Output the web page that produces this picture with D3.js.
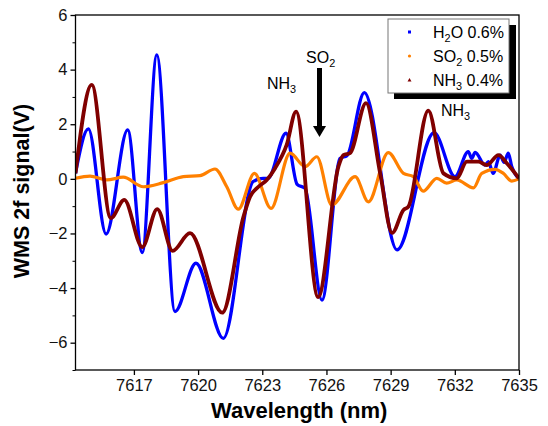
<!DOCTYPE html>
<html><head><meta charset="utf-8">
<script src="https://cdn.jsdelivr.net/npm/d3@7"></script>
<style>body{margin:0;background:#fff}svg{display:block}text{font-family:"Liberation Sans",Arial,sans-serif}</style>
</head><body>
<svg id="c" width="548" height="426"></svg>
<script>
const xTicks = [7617, 7620, 7623, 7626, 7629, 7632, 7635];
const yTicks = [-6, -4, -2, 0, 2, 4, 6];
const yMinor = [-7, -5, -3, -1, 1, 3, 5];

const h2oW = [7614.27,7614.87,7615.70,7616.71,7617.39,7618.07,7618.92,7619.90,7621.18,7622.57,7623.04,7623.27,7624.11,7624.63,7625.00,7625.79,7626.64,7626.96,7627.77,7629.30,7631.03,7632.01,7632.63,7632.79,7632.95,7633.41,7633.57,7633.79,7634.12,7634.30,7634.50,7634.66,7635.0];
const h2oV = [0.2,1.83,-2.02,1.79,-2.70,4.54,-4.86,-3.09,-5.84,-0.1,0.02,0.02,1.67,-0.2,-0.35,-4.44,0.75,0.85,3.16,-2.6,1.69,0.08,1.0,0.75,0.97,0.5,0.63,0.2,0.87,0.6,0.94,0.45,0.0];

const nh3W = [7614.27,7615.03,7615.92,7616.55,7617.39,7618.09,7618.81,7619.62,7621.13,7622.12,7622.43,7622.82,7623.21,7623.60,7624.14,7624.58,7625.61,7626.56,7626.79,7627.10,7627.85,7628.51,7629.07,7629.60,7629.83,7630.76,7631.47,7632.09,7632.56,7633.10,7633.49,7634.04,7634.43,7635.0];
const nh3V = [0.2,3.44,-1.44,-0.77,-2.5,-1.11,-2.64,-1.99,-4.9,-1.39,-0.65,-0.29,-0.04,0.39,1.24,2.46,-4.33,0.45,0.87,0.94,2.77,0.2,-1.98,-1.14,-1.02,2.5,0.2,0.02,0.63,0.63,0.5,0.87,0.57,0.02];

const so2W = [7614.27,7614.95,7615.73,7616.5,7617.44,7618.37,7619.31,7620.09,7620.79,7621.34,7621.88,7622.63,7623.41,7624.30,7625.00,7625.55,7626.25,7627.34,7627.96,7628.89,7629.60,7630.06,7630.52,7631.16,7631.62,7632.09,7632.87,7633.26,7633.88,7634.27,7634.66,7635.0];
const so2V = [0.02,0.1,-0.04,0.06,-0.29,-0.14,0.08,0.12,0.36,-0.29,-1.11,0.2,-1.08,0.94,0.45,0.81,-0.96,0.08,-0.84,0.96,0.2,0.08,-0.45,0.02,-0.16,-0.04,-0.33,0.2,0.35,0.2,-0.08,0.0];

const seriesNames = ["H2O 0.6%", "SO2 0.5%", "NH3 0.4%"];

const svg = d3.select("#c");
const L = 75.5, R = 519, T = 15, B = 370;
const x = d3.scaleLinear().domain([7614.27, 7635]).range([L, R]);
const y = d3.scaleLinear().domain([-7, 6]).range([B, T]);

const series = [
  {name:"H2O", w:h2oW, v:h2oV, color:"#0000ff", width:3.3},
  {name:"SO2", w:so2W, v:so2V, color:"#ff8000", width:3.2},
  {name:"NH3", w:nh3W, v:nh3V, color:"#800000", width:3.8}
];

svg.append("clipPath").attr("id","pc").append("rect")
  .attr("x",L).attr("y",T).attr("width",R-L).attr("height",B-T);

const line = d3.line().x(d=>x(d[0])).y(d=>y(d[1])).curve(d3.curveMonotoneX);
const g = svg.append("g").attr("clip-path","url(#pc)");
series.forEach(s=>{
  g.append("path").datum(s.w.map((w,i)=>[w,s.v[i]]))
   .attr("d",line).attr("fill","none").attr("stroke",s.color)
   .attr("stroke-width",s.width).attr("stroke-linejoin","round");
});

// frame
svg.append("rect").attr("x",L).attr("y",T).attr("width",R-L).attr("height",B-T)
  .attr("fill","none").attr("stroke","#000").attr("stroke-width",1.3);

// axes
const xa = svg.append("g").attr("transform",`translate(0,${B})`)
  .call(d3.axisBottom(x).tickValues(xTicks).tickSize(5).tickPadding(4).tickFormat(d3.format("d")));
const ya = svg.append("g").attr("transform",`translate(${L},0)`)
  .call(d3.axisLeft(y).tickValues(yTicks).tickSize(5).tickPadding(3).tickFormat(d3.format("d")));
svg.append("g").attr("transform",`translate(${L},0)`)
  .call(d3.axisLeft(y).tickValues(yMinor).tickSize(3).tickFormat(""))
  .select(".domain").remove();
[xa,ya].forEach(a=>{
  a.select(".domain").remove();
  a.selectAll("text").attr("font-size",16.5).attr("font-family","Liberation Sans, Arial").attr("fill","#111");
  a.selectAll("line").attr("stroke","#000").attr("stroke-width",1.3);
});
svg.selectAll("g line").attr("stroke","#000");

// axis titles
svg.append("text").attr("x",(L+R)/2+2).attr("y",418).attr("text-anchor","middle")
  .attr("font-size",22).attr("font-weight","bold").text("Wavelength (nm)");
svg.append("text").attr("transform","translate(29,191) rotate(-90)").attr("text-anchor","middle")
  .attr("font-size",21.5).attr("font-weight","bold").text("WMS 2f signal(V)");

function chem(sel, base, sub, rest, size){
  const t = sel.attr("font-size",size);
  t.append("tspan").text(base);
  t.append("tspan").attr("font-size",size*0.68).attr("dy",size*0.28).text(sub);
  if(rest) t.append("tspan").attr("dy",-size*0.28).text(rest);
  return t;
}

// annotations
chem(svg.append("text").attr("x",267).attr("y",89),"NH","3","",16);
chem(svg.append("text").attr("x",306).attr("y",63),"SO","2","",16);
chem(svg.append("text").attr("x",441).attr("y",116),"NH","3","",16);
svg.append("line").attr("x1",319.5).attr("y1",68).attr("x2",319.5).attr("y2",128)
  .attr("stroke","#000").attr("stroke-width",5);
svg.append("path").attr("d","M313,126 L326,126 L319.5,137 Z").attr("fill","#000");

// legend
const lg = svg.append("g");
lg.append("rect").attr("x",394).attr("y",25).attr("width",122).attr("height",74).attr("fill","#000");
lg.append("rect").attr("x",388).attr("y",19).attr("width",121).attr("height",74)
  .attr("fill","#fff").attr("stroke","#777").attr("stroke-width",1);
const ly = [32, 56, 80];
const subs = [["H","2","O 0.6%"],["SO","2"," 0.5%"],["NH","3"," 0.4%"]];
series.forEach((s,i)=>{
  if(i===0) lg.append("rect").attr("x",408).attr("y",ly[i]-1.5).attr("width",3).attr("height",3).attr("fill",s.color);
  else if(i===1) lg.append("circle").attr("cx",409.5).attr("cy",ly[i]).attr("r",1.6).attr("fill",s.color);
  else lg.append("path").attr("d",`M407.5,${ly[i]+1.5} L411.5,${ly[i]+1.5} L409.5,${ly[i]-2} Z`).attr("fill",s.color);
  chem(lg.append("text").attr("x",433).attr("y",ly[i]+5.5),subs[i][0],subs[i][1],subs[i][2],16);
});
</script>
</body></html>
